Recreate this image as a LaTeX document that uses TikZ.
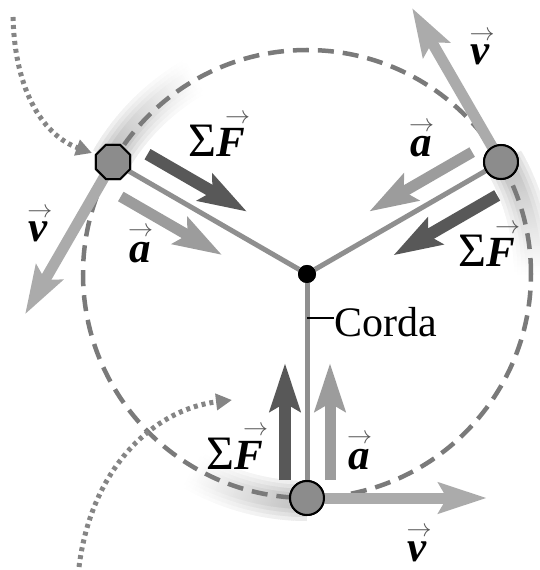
\documentclass[tikz,border=0pt]{standalone}
\usepackage{fix-cm}
\usepackage{fontspec}
\newfontfamily\labfont{Liberation Serif}
\usetikzlibrary{arrows.meta,calc,shapes.geometric}
\definecolor{fcol}{HTML}{585858}
\definecolor{acol}{HTML}{9C9C9C}
\definecolor{vcol}{HTML}{ABABAB}
\definecolor{strcol}{HTML}{8F8F8F}
\definecolor{circcol}{HTML}{7A7A7A}
\definecolor{ballcol}{HTML}{8C8C8C}
\definecolor{dotcol}{HTML}{858585}
\definecolor{veccol}{HTML}{555555}
\newsavebox\vlabbox
% vector label: bold italic letter with a thin arrow over it (#1 = start fraction)
\newcommand\vlab[2][-0.05]{%
  \sbox\vlabbox{\bfseries\itshape #2}%
  \rlap{\hspace{#1\wd\vlabbox}\raisebox{\dimexpr\ht\vlabbox+5pt\relax}{\fontsize{25}{25}\selectfont\color{veccol}$\rightarrow$}}%
  \usebox\vlabbox}
\newcommand\sumsym{{\fontsize{48}{50}\selectfont Σ}}
\begin{document}
\begin{tikzpicture}[x=1pt,y=1pt,
  bigarrow/.style={line width=12pt,-{Stealth[length=48pt,width=30pt,inset=8pt]}},
  farrow/.style={bigarrow,draw=fcol},
  aarrow/.style={bigarrow,draw=acol,line width=11pt},
  varrow/.style={bigarrow,draw=vcol,line width=11pt},
  chord/.style={draw=strcol,line width=5pt},
  orbit/.style={draw=circcol,line width=4.5pt,dash pattern=on 16pt off 9pt},
  dotpath/.style={draw=dotcol,line width=5pt,dash pattern=on 4pt off 4pt,-{Triangle[length=16pt,width=16pt]}},
  ball/.style={circle,fill=ballcol,draw=black,line width=2pt,minimum size=34pt,inner sep=0pt},
  octball/.style={regular polygon,regular polygon sides=8,fill=ballcol,draw=black,line width=2pt,minimum size=37pt,inner sep=0pt},
  lab/.style={font=\labfont\fontsize{43}{50}\selectfont,inner sep=0pt},
  cordalab/.style={font=\labfont\fontsize{42}{50}\selectfont,inner sep=0pt}]
\useasboundingbox (-307,-296) rectangle (232,274);

% motion trails (soft fading bands behind each ball)
\foreach \w/\k in {40/8,32/14,24/20,16/26}{
  \foreach \st in {150,30,270}{
    \foreach \i in {0,...,59}{
      \pgfmathsetmacro\sa{\st-\i*0.5}
      \pgfmathsetmacro\ea{\st-\i*0.5-0.8}
      \pgfmathsetmacro\cc{\k*(1-\i/60)}
      \draw[line width=\w pt,draw=black!\cc] (\sa:227) arc[start angle=\sa,end angle=\ea,radius=227];
    }
  }
}

% orbit
\draw[orbit] (0,0) circle[radius=224];

% dotted trajectories
\coordinate (d1s) at (-294,257);
\coordinate (d1e) at (-215,121);
\draw[dotpath] (d1s) .. controls (-292,180) and (-262,138) .. (d1e);
\coordinate (d2s) at (-228,-293);
\coordinate (d2e) at (-75,-126);
\draw[dotpath] (d2s) .. controls (-215,-190) and (-150,-135) .. (d2e);

% nodes
\node[circle,fill=black,minimum size=18pt,inner sep=0pt] (c) at (0,0) {};
\node[octball] (b1) at (150:224) {};
\node[ball] (b2) at (30:224) {};
\node[ball] (b3) at (270:224) {};

% local frames: x toward centre, y behind the motion
\begin{scope}[shift={(150:224)},rotate=-30]
  \coordinate (v1s) at (0,0); \coordinate (v1e) at (0,-176);
  \coordinate (f1s) at (26,24); \coordinate (f1e) at (141,24);
  \coordinate (a1s) at (24,-26); \coordinate (a1e) at (141,-26);
\end{scope}
\begin{scope}[shift={(30:224)},rotate=210]
  \coordinate (v2s) at (0,0); \coordinate (v2e) at (0,-178);
  \coordinate (f2s) at (20,27); \coordinate (f2e) at (140,27);
  \coordinate (a2s) at (20,-23); \coordinate (a2e) at (139,-23);
\end{scope}
\begin{scope}[shift={(270:224)},rotate=90]
  \coordinate (v3s) at (0,0); \coordinate (v3e) at (0,-180);
  \coordinate (f3s) at (18,22); \coordinate (f3e) at (135,22);
  \coordinate (a3s) at (18,-23); \coordinate (a3e) at (135,-23);
\end{scope}

% strings
\draw[chord] (c) -- (b1);
\draw[chord] (c) -- (b2);
\draw[chord] (c) -- (b3);

% velocity arrows (under the balls)
\draw[varrow] (v1s) -- (v1e);
\draw[varrow] (v2s) -- (v2e);
\draw[varrow] (v3s) -- (v3e);

% redraw balls and centre on top
\node[octball] at (b1.center) {};
\node[ball] at (b2.center) {};
\node[ball] at (b3.center) {};
\node[circle,fill=black,minimum size=18pt,inner sep=0pt] at (c.center) {};

% force and acceleration arrows
\draw[farrow] (f1s) -- (f1e);
\draw[aarrow] (a1s) -- (a1e);
\draw[farrow] (f2s) -- (f2e);
\draw[aarrow] (a2s) -- (a2e);
\draw[farrow] (f3s) -- (f3e);
\draw[aarrow] (a3s) -- (a3e);

% labels
\node[lab,anchor=base] (lf1) at (-90,117) {\sumsym\vlab[0.3]{F}};
\node[lab,anchor=base] (lv1) at (-269,32) {\vlab{v}};
\node[lab,anchor=base] (la1) at (-167,12) {\vlab{a}};
\node[lab,anchor=base] (lv2) at (173,209) {\vlab{v}};
\node[lab,anchor=base] (la2) at (114,117) {\vlab{a}};
\node[lab,anchor=base] (lf2) at (180,7) {\sumsym\vlab[0.3]{F}};
\node[lab,anchor=base] (lf3) at (-72,-195) {\sumsym\vlab[0.3]{F}};
\node[lab,anchor=base] (la3) at (52,-195) {\vlab{a}};
\node[lab,anchor=base] (lv3) at (110,-287) {\vlab{v}};

\node[cordalab,anchor=base west] (corda) at (27,-62) {Corda};
\coordinate (t1) at (0,-44);
\draw[line width=1.5pt] (t1) -- (t1 -| corda.west);
\end{tikzpicture}
\end{document}
